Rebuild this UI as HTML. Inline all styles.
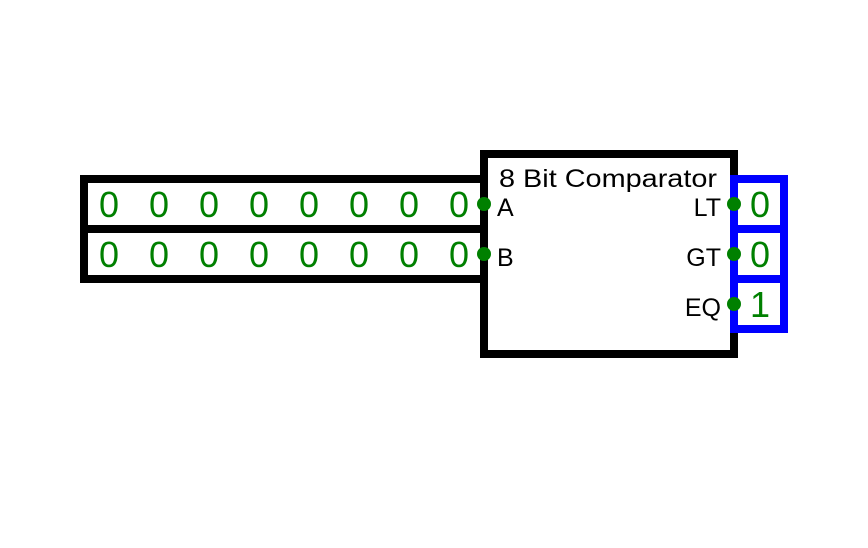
<!DOCTYPE html>
<html><head><style>html,body{margin:0;padding:0;background:#fff;}</style></head>
<body>
<svg width="868" height="543" xmlns="http://www.w3.org/2000/svg" font-family="Liberation Sans, sans-serif">
<rect x="0" y="0" width="868" height="543" fill="#fff"/>
<rect x="84" y="179" width="400" height="100" fill="#fff" stroke="#000" stroke-width="8"/>
<line x1="84" y1="229" x2="484" y2="229" stroke="#000" stroke-width="8"/>
<rect x="484" y="154" width="250" height="200" fill="#fff" stroke="#000" stroke-width="8"/>
<rect x="734" y="179" width="50" height="150" fill="#fff" stroke="#00f" stroke-width="8"/>
<line x1="734" y1="229" x2="784" y2="229" stroke="#00f" stroke-width="8"/>
<line x1="734" y1="279" x2="784" y2="279" stroke="#00f" stroke-width="8"/>
<g fill="#008000" font-size="36" text-anchor="middle">
<text x="109" y="217">0</text><text x="159" y="217">0</text><text x="209" y="217">0</text><text x="259" y="217">0</text><text x="309" y="217">0</text><text x="359" y="217">0</text><text x="409" y="217">0</text><text x="459" y="217">0</text>
<text x="109" y="267">0</text><text x="159" y="267">0</text><text x="209" y="267">0</text><text x="259" y="267">0</text><text x="309" y="267">0</text><text x="359" y="267">0</text><text x="409" y="267">0</text><text x="459" y="267">0</text>
<text x="760" y="217">0</text><text x="760" y="267">0</text><text x="760" y="317">1</text>
</g>
<g fill="#000" font-size="25">
<text x="499" y="187" textLength="218" lengthAdjust="spacingAndGlyphs">8 Bit Comparator</text>
<text x="497" y="216">A</text>
<text x="497" y="266">B</text>
<text x="721" y="216" text-anchor="end">LT</text>
<text x="721" y="266" text-anchor="end">GT</text>
<text x="721" y="316" text-anchor="end">EQ</text>
</g>
<g fill="#008000">
<circle cx="484" cy="204" r="7"/><circle cx="484" cy="254" r="7"/>
<circle cx="734" cy="204" r="7"/><circle cx="734" cy="254" r="7"/><circle cx="734" cy="304" r="7"/>
</g>
</svg>
</body></html>
